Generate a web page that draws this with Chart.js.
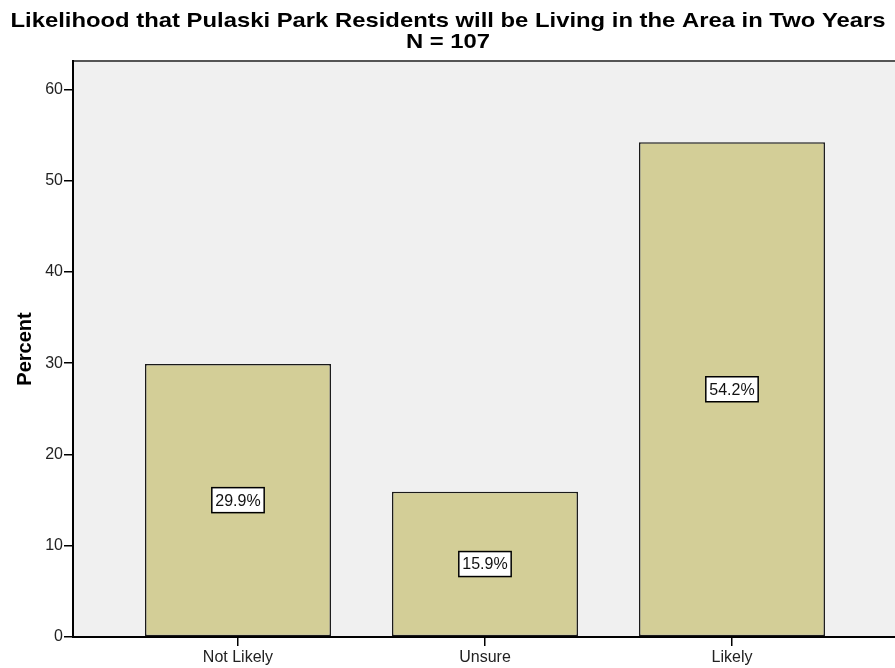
<!DOCTYPE html>
<html>
<head>
<meta charset="utf-8">
<script src="https://cdn.jsdelivr.net/npm/chart.js@4.4.1/dist/chart.umd.min.js"></script>
<style>
  html, body { margin: 0; padding: 0; background: #fff; }
  #wrap { width: 895px; height: 668px; }
</style>
</head>
<body>
<div id="wrap"><canvas id="chart" width="895" height="668"></canvas></div>
<script>
const categories = ["Not Likely", "Unsure", "Likely"];
const percents = [29.9, 15.9, 54.2];
const yTicks = [0, 10, 20, 30, 40, 50, 60];
const titleLines = ["Likelihood that Pulaski Park Residents will be Living in the Area in Two Years", "N = 107"];

const FONT = "'Liberation Sans', Arial, sans-serif";

// two-line title, stretched a bit like the SPSS output
const titleDraw = {
  id: "titleDraw",
  afterDraw(chart) {
    const { ctx } = chart;
    ctx.save();
    ctx.font = "bold 21px " + FONT;
    ctx.fillStyle = "#000";
    ctx.textAlign = "center";
    ctx.textBaseline = "alphabetic";
    const w = ctx.measureText(titleLines[0]).width;
    const sx = 875 / w;
    ctx.translate(448, 0);
    ctx.scale(sx, 1);
    ctx.fillText(titleLines[0], 0, 27);
    ctx.fillText(titleLines[1], 0, 48);
    ctx.restore();
  }
};

// plot background + top frame line
const plotFrame = {
  id: "plotFrame",
  beforeDraw(chart) {
    const { ctx, chartArea: a } = chart;
    ctx.save();
    ctx.fillStyle = "#f0f0f0";
    ctx.fillRect(a.left, a.top, a.right - a.left, a.bottom - a.top);
    ctx.strokeStyle = "#555";
    ctx.lineWidth = 2;
    ctx.beginPath();
    ctx.moveTo(a.left, a.top);
    ctx.lineTo(a.right, a.top);
    ctx.stroke();
    ctx.restore();
  }
};

// boxed percent labels in the middle of each bar
const boxLabels = {
  id: "boxLabels",
  afterDatasetsDraw(chart) {
    const { ctx } = chart;
    const meta = chart.getDatasetMeta(0);
    ctx.save();
    ctx.font = "16px " + FONT;
    ctx.textAlign = "center";
    ctx.textBaseline = "middle";
    meta.data.forEach((bar, i) => {
      const txt = percents[i].toFixed(1) + "%";
      const cy = (bar.y + bar.base) / 2;
      const w = ctx.measureText(txt).width + 7;
      const h = 25;
      ctx.fillStyle = "#fff";
      ctx.fillRect(bar.x - w / 2, cy - h / 2, w, h);
      ctx.strokeStyle = "#000";
      ctx.lineWidth = 1.5;
      ctx.strokeRect(bar.x - w / 2, cy - h / 2, w, h);
      ctx.fillStyle = "#111";
      ctx.fillText(txt, bar.x, cy + 1);
    });
    ctx.restore();
  }
};

const ctx = document.getElementById("chart").getContext("2d");
new Chart(ctx, {
  type: "bar",
  data: {
    datasets: [{
      data: percents.map((p, i) => ({ x: i, y: p })),
      backgroundColor: "#d3ce97",
      borderColor: "#1a1a1a",
      borderWidth: 1.5,
      borderSkipped: false,
      barPercentage: 0.753,
      categoryPercentage: 1
    }]
  },
  plugins: [plotFrame, boxLabels, titleDraw],
  options: {
    responsive: false,
    animation: false,
    layout: { padding: { left: 0, right: 0, top: 61, bottom: 0 } },
    plugins: {
      legend: { display: false },
      tooltip: { enabled: false },
      title: { display: false }
    },
    scales: {
      x: {
        type: "linear",
        offset: false,
        min: -0.668,
        max: 2.66,
        afterBuildTicks: (axis) => { axis.ticks = categories.map((c, i) => ({ value: i })); },
        afterFit: (axis) => { axis.height = 31; },
        ticks: {
          callback: (v) => categories[v],
          color: "#222",
          font: { family: FONT, size: 16 },
          padding: 2,
          maxRotation: 0,
          autoSkip: false
        },
        grid: { offset: false, drawOnChartArea: false, drawTicks: true, tickLength: 9, color: "#000", lineWidth: 1.5 },
        border: { display: true, color: "#000", width: 2 }
      },
      y: {
        min: 0,
        max: 63.1,
        afterBuildTicks: (axis) => { axis.ticks = yTicks.map((v) => ({ value: v })); },
        afterFit: (axis) => { axis.width = 73; },
        ticks: {
          color: "#222",
          font: { family: FONT, size: 16 },
          padding: 1
        },
        title: {
          display: true,
          text: "Percent",
          color: "#000",
          font: { family: FONT, size: 20, weight: "bold" },
          padding: { top: 13, bottom: 0 }
        },
        grid: { drawOnChartArea: false, drawTicks: true, tickLength: 9, color: "#000", lineWidth: 1.5 },
        border: { display: true, color: "#000", width: 2 }
      }
    }
  }
});
</script>
</body>
</html>
